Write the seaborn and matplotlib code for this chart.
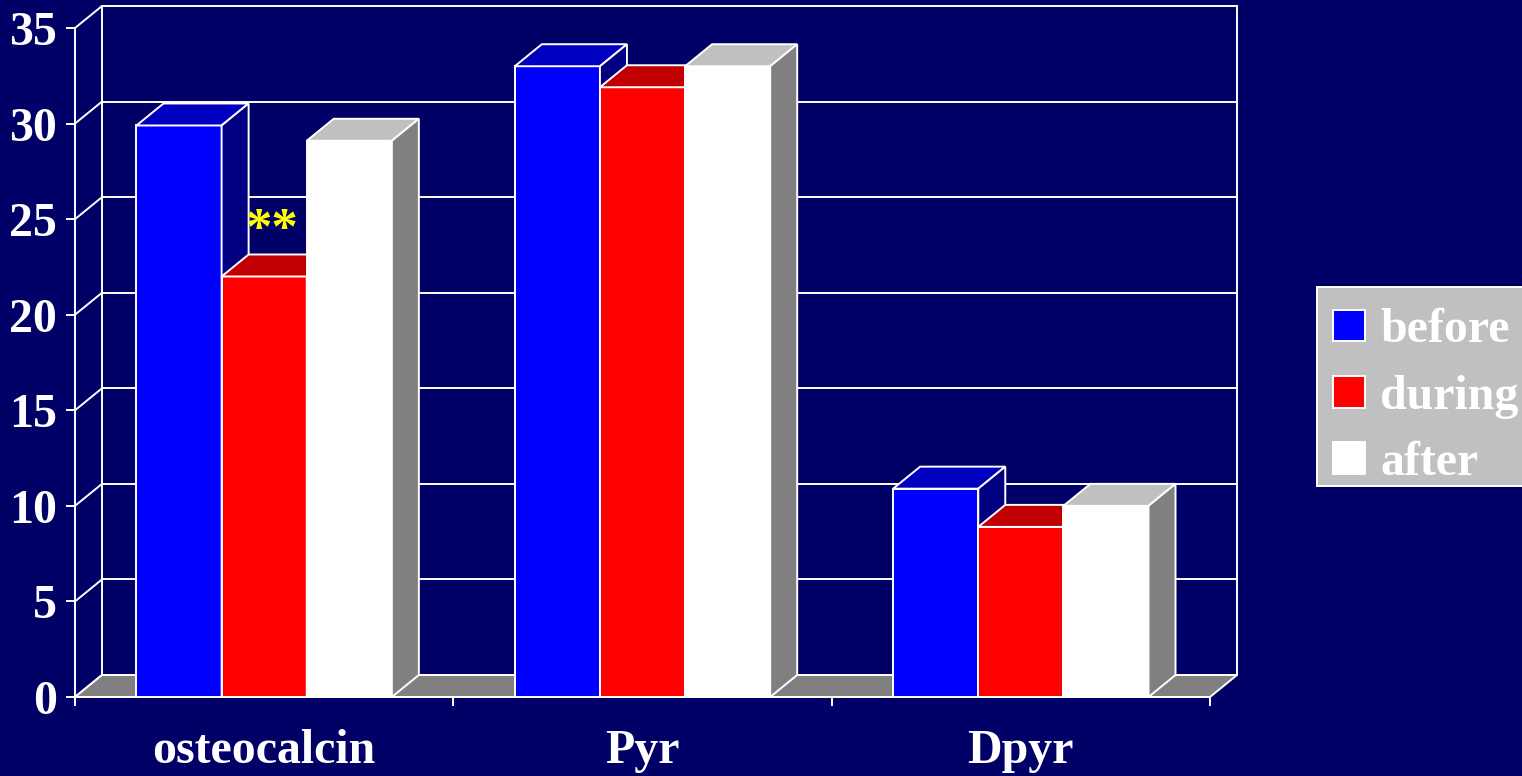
import numpy as np
import pandas as pd
import matplotlib
matplotlib.use("Agg")
import matplotlib.pyplot as plt
from matplotlib.patches import Polygon, Patch, Rectangle
from matplotlib.lines import Line2D
from matplotlib.colors import to_hex
from matplotlib.legend_handler import HandlerPatch
import seaborn as sns

# ---- data -------------------------------------------------------------
markers = ["osteocalcin", "Pyr", "Dpyr"]
phases = ["before", "during", "after"]
before = [29.9, 33.0, 10.9]
during = [22.0, 31.9, 8.9]
after = [29.1, 33.0, 10.0]
yticks = [0, 5, 10, 15, 20, 25, 30, 35]
significance = "**"          # marks the osteocalcin "during" bar

# ---- style ------------------------------------------------------------
BG = "#000066"
front_colors = ["#0000FF", "#FF0000", "#FFFFFF"]
top_colors = ["#0000C0", "#C00000", "#C0C0C0"]
side_colors = ["#000080", "#800000", "#808080"]
FLOOR = "#808080"
LEGEND_BG = "#C0C0C0"
LW = 1.4
FS = 34.5
DX, DY = 27, 22          # depth of the pseudo-3D boxes, in pixels

sns.set_theme(style="white")
plt.rcParams["font.family"] = ["Liberation Serif", "DejaVu Serif"]
plt.rcParams["font.weight"] = "bold"

wide = pd.DataFrame({"marker": markers, "before": before,
                     "during": during, "after": after})
df = wide.melt(id_vars="marker", var_name="phase", value_name="value")

W, H = 1522, 776
fig = plt.figure(figsize=(W / 100, H / 100), dpi=100, facecolor=BG)
ax = fig.add_axes([75 / W, 79 / H, 1135 / W, 669 / H])
ax.set_facecolor(BG)

sns.barplot(data=df, x="marker", y="value", hue="phase", order=markers,
            hue_order=phases, palette=front_colors, saturation=1,
            width=0.675, edgecolor="white", linewidth=LW, errorbar=None,
            legend=False, ax=ax)

# the bars seaborn drew, ordered left to right
bars = sorted([p for p in ax.patches if isinstance(p, Rectangle) and p.get_height() > 0],
              key=lambda p: p.get_x())

ax.set_xlim(-0.5, 2.5)
ax.set_ylim(0, 35)
ax.autoscale(False)
ax.set_xlabel("")
ax.set_ylabel("")


def back(x, y):
    """Data point pushed back by the box depth."""
    px, py = ax.transData.transform((x, y))
    return tuple(ax.transData.inverted().transform((px + DX, py + DY)))


x0, x1 = ax.get_xlim()

# back wall: gridlines and edges
for y in yticks:
    ax.add_line(Line2D([back(x0, y)[0], back(x1, y)[0]],
                       [back(x0, y)[1], back(x1, y)[1]],
                       color="white", lw=LW, clip_on=False, zorder=0.5))
    # left side wall diagonals
    bx, by = back(x0, y)
    ax.add_line(Line2D([x0, bx], [y, by], color="white", lw=LW,
                       clip_on=False, zorder=0.5))
for xe in (x0, x1):
    b0, b1 = back(xe, 0), back(xe, 35)
    ax.add_line(Line2D([b0[0], b1[0]], [b0[1], b1[1]], color="white",
                       lw=LW, clip_on=False, zorder=0.5))

# floor
ax.add_patch(Polygon([(x0, 0), (x1, 0), back(x1, 0), back(x0, 0)],
                     closed=True, facecolor=FLOOR, edgecolor="white",
                     lw=LW, clip_on=False, zorder=1))

# turn the flat bars into boxes, left to right so each face covers the previous side
color_index = {c: i for i, c in enumerate(front_colors)}
for k, bar in enumerate(bars):
    bl, bw, bh = bar.get_x(), bar.get_width(), bar.get_height()
    br = bl + bw
    ci = color_index.get(to_hex(bar.get_facecolor()).upper(), 0)
    z = 3 + 0.1 * k
    bar.set_zorder(z)
    bar.set_clip_on(False)
    top = Polygon([(bl, bh), (br, bh), back(br, bh), back(bl, bh)],
                  closed=True, facecolor=top_colors[ci], edgecolor="white",
                  lw=LW, zorder=z + 0.05, clip_on=False)
    side = Polygon([(br, 0), (br, bh), back(br, bh), back(br, 0)],
                   closed=True, facecolor=side_colors[ci], edgecolor="white",
                   lw=LW, zorder=z + 0.05, clip_on=False)
    ax.add_patch(top)
    ax.add_patch(side)

# significance mark above the osteocalcin "during" bar
mark_bar = [b for b in bars if to_hex(b.get_facecolor()).upper() == front_colors[1]][0]
ax.annotate(significance,
            xy=(mark_bar.get_x() + mark_bar.get_width() / 2, mark_bar.get_height()),
            xytext=(8, 21), textcoords="offset pixels", ha="center", va="bottom",
            color="#FFFF00", fontsize=38, fontweight="bold", zorder=10)

# axes, ticks, labels
for s in ("top", "right"):
    ax.spines[s].set_visible(False)
for s in ("left", "bottom"):
    ax.spines[s].set_color("white")
    ax.spines[s].set_linewidth(LW)
    ax.spines[s].set_zorder(2)

ax.set_yticks(yticks, labels=[str(v) for v in yticks])
ax.set_xticks([-0.5, 0.5, 1.5, 2.5], labels=[""] * 4)
ax.set_xticks([0, 1, 2], labels=markers, minor=True)
ax.tick_params(axis="y", which="major", direction="out", length=6.5, width=LW,
               color="white", labelcolor="white", labelsize=FS, pad=6.5, left=True)
ax.tick_params(axis="x", which="major", direction="out", length=6.5, width=LW,
               color="white", bottom=True)
ax.tick_params(axis="x", which="minor", length=0, labelcolor="white",
               labelsize=FS, pad=23)
for lab in ax.get_yticklabels() + ax.get_xticklabels(minor=True):
    lab.set_fontweight("bold")
ax.grid(False)


# legend: square swatches set a little in from the frame edge
def square_swatch(legend, orig_handle, xdescent, ydescent, width, height, fontsize):
    side = height
    return Rectangle((width - side - xdescent, -ydescent), side, side)


# grey legend panel, running off the right edge of the figure
ax.add_patch(Rectangle((1317 / W, 1 - 486 / H), 215 / W, 199 / H,
                       transform=fig.transFigure, facecolor=LEGEND_BG,
                       edgecolor="white", lw=LW, clip_on=False, zorder=4.9))

handles = [Patch(facecolor=c, edgecolor="white", lw=LW) for c in front_colors]
leg = ax.legend(handles, phases, loc="upper left",
                bbox_to_anchor=(1328 / W, 1 - 308.5 / H), bbox_transform=fig.transFigure,
                frameon=False, prop={"weight": "bold", "size": FS}, labelcolor="white",
                handlelength=0.77, handleheight=0.64, handletextpad=0.32,
                labelspacing=0.46, borderpad=0, borderaxespad=0,
                handler_map={Patch: HandlerPatch(patch_func=square_swatch)})
leg.set_zorder(5)

fig.savefig("out.png", dpi=100, facecolor=BG)
